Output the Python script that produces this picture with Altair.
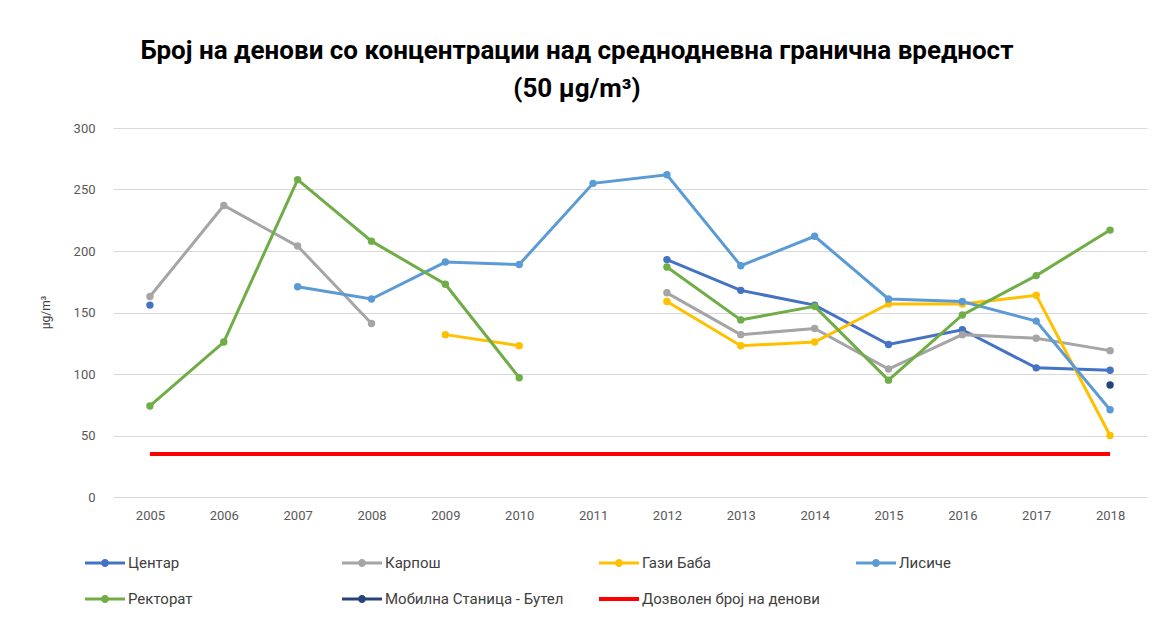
import altair as alt
import pandas as pd

years = [str(y) for y in range(2005, 2019)]
series_names = ["Центар", "Карпош", "Гази Баба", "Лисиче", "Ректорат",
                "Мобилна Станица - Бутел", "Дозволен број на денови"]
colors = ["#4472C4", "#A5A5A5", "#FFC000", "#5B9BD5", "#70AD47", "#264478", "#FF0000"]

centar = [156, None, None, None, None, None, None, 193, 168, 156, 124, 136, 105, 103]
karposh = [163, 237, 204, 141, None, None, None, 166, 132, 137, 104, 132, 129, 119]
gazi_baba = [None, None, None, None, 132, 123, None, 159, 123, 126, 157, 157, 164, 50]
lisice = [None, None, 171, 161, 191, 189, 255, 262, 188, 212, 161, 159, 143, 71]
rektorat = [74, 126, 258, 208, 173, 97, None, 187, 144, 155, 95, 148, 180, 217]
mobilna = [None, None, None, None, None, None, None, None, None, None, None, None, None, 91]
dozvolen = [35, 35, 35, 35, 35, 35, 35, 35, 35, 35, 35, 35, 35, 35]

y_ticks = [0, 50, 100, 150, 200, 250, 300]

all_vals = [centar, karposh, gazi_baba, lisice, rektorat, mobilna, dozvolen]
rows = []
for name, vals in zip(series_names, all_vals):
    seg = 0
    for yr, v in zip(years, vals):
        if v is None:
            seg += 1
            continue
        rows.append({"series": name, "year": yr, "value": v, "seg": f"{name}-{seg}"})
df = pd.DataFrame(rows)

LIMIT = series_names[-1]
FONT = "Roboto"

color_scale = alt.Scale(domain=series_names, range=colors)

line_marker = ("M-2,-0.15L2,-0.15L2,0.15L-2,0.15Z"
               "M-0.4,0A0.4,0.4,0,1,1,0.4,0A0.4,0.4,0,1,1,-0.4,0Z")
line_only = "M-2,-0.2L2,-0.2L2,0.2L-2,0.2Z"
shape_range = [line_marker] * 6 + [line_only]

legend = alt.Legend(title=None, orient="none", legendX=-28, legendY=425, columns=4,
                    direction="horizontal", gridAlign="all", columnPadding=35,
                    rowPadding=18, labelLimit=400,
                    symbolSize=400, symbolOffset=10, labelOffset=13,
                    labelFont=FONT, labelFontSize=15, labelColor="#404040",
                    symbolOpacity=1, symbolStrokeWidth=0, padding=0)

x_enc = alt.X("year:O", sort=years,
              scale=alt.Scale(type="point", padding=0.5),
              axis=alt.Axis(title=None, labelAngle=0, ticks=False, tickSize=0,
                            domain=False, labelPadding=12, labelFontSize=13,
                            labelColor="#595959", labelFont=FONT))
y_enc = alt.Y("value:Q", scale=alt.Scale(domain=[0, 300], nice=False),
              axis=alt.Axis(values=y_ticks, title="µg/m³", ticks=False, tickSize=0,
                            domain=False, labelPadding=18, labelFontSize=13,
                            labelColor="#595959", labelFont=FONT,
                            gridColor="#D9D9D9", gridWidth=1,
                            titleFont=FONT, titleFontSize=12, titleFontWeight="normal",
                            titleColor="#404040", titleX=-68, titleY=184,
                            titleAlign="center", titleBaseline="middle"))
c_enc = alt.Color("series:N", scale=color_scale, legend=legend)

base = alt.Chart(df)

lines = base.transform_filter(alt.datum.series != LIMIT).mark_line(strokeWidth=3).encode(
    x=x_enc, y=y_enc, color=c_enc, detail="seg:N",
)
points = base.transform_filter(alt.datum.series != LIMIT).mark_point(
    filled=True, size=55, opacity=1).encode(
    x=x_enc, y=y_enc, color=c_enc,
)
limit_line = base.transform_filter(alt.datum.series == LIMIT).mark_line(strokeWidth=4).encode(
    x=x_enc, y=y_enc, color=c_enc,
)

legend_df = pd.DataFrame({"series": series_names})
legend_layer = alt.Chart(legend_df).mark_point(filled=True, opacity=0).encode(
    color=c_enc,
    shape=alt.Shape("series:N", scale=alt.Scale(domain=series_names, range=shape_range),
                    legend=legend),
)

chart = alt.layer(lines, limit_line, points, legend_layer).properties(
    width=1034, height=369,
    autosize=alt.AutoSizeParams(type="none"),
    padding={"left": 105, "top": 120, "right": 1, "bottom": 112},
    background="white",
    title=alt.Title(
        text=["Број на денови со концентрации над среднодневна гранична вредност",
              "(50 µg/m³)"],
        font=FONT, fontSize=26, fontWeight="bold", color="#000000",
        anchor="middle", dx=-53, offset=20, lineHeight=38,
    ),
).configure_view(stroke=None)

chart.save("out.html", embed_options={"renderer": "svg", "actions": False})
